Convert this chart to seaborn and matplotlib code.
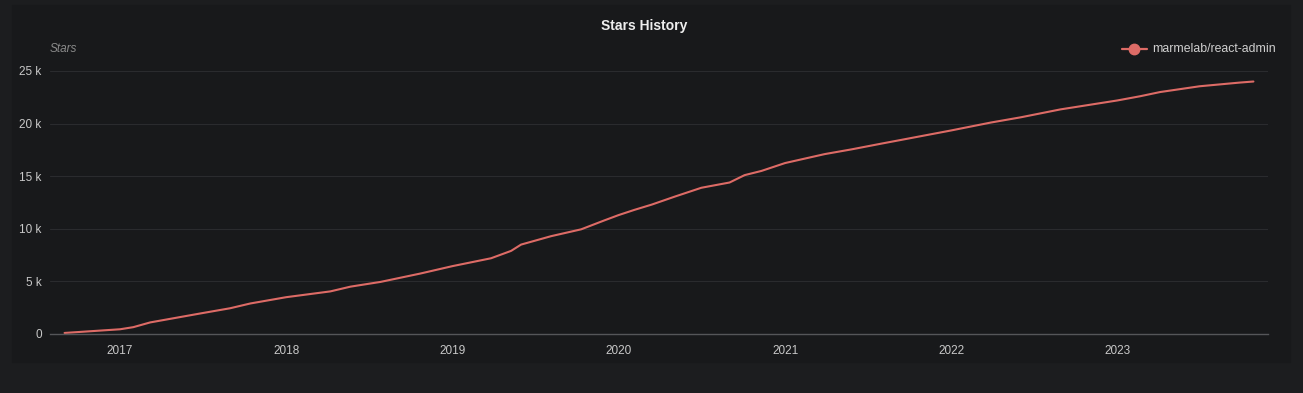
#%% Stars history of marmelab/react-admin
import numpy as np
import pandas as pd
import matplotlib
matplotlib.use('Agg')
import matplotlib.pyplot as plt
import matplotlib.dates as mdates
import seaborn as sns
from matplotlib.ticker import FuncFormatter

repo = 'marmelab/react-admin'
dates = ['2016-09-01', '2017-01-01', '2017-01-30', '2017-03-08', '2017-06-26',
         '2017-08-31', '2017-10-14', '2018-01-01', '2018-04-08', '2018-05-22',
         '2018-07-27', '2018-10-23', '2019-01-01', '2019-03-27', '2019-05-10',
         '2019-06-01', '2019-08-06', '2019-10-11', '2019-12-01', '2020-01-01',
         '2020-02-05', '2020-03-14', '2020-05-03', '2020-07-01', '2020-09-01',
         '2020-10-04', '2020-11-10', '2021-01-01', '2021-03-29', '2021-05-27',
         '2021-08-01', '2021-09-13', '2022-01-01', '2022-03-29', '2022-06-03',
         '2022-08-29', '2023-01-01', '2023-02-20', '2023-04-05', '2023-07-01',
         '2023-09-27', '2023-10-27']
stars = [100, 450, 650, 1100, 1950,
         2450, 2900, 3500, 4050, 4500,
         4950, 5750, 6450, 7200, 7900,
         8500, 9300, 9950, 10800, 11300,
         11800, 12300, 13050, 13900, 14400,
         15100, 15500, 16250, 17100, 17550,
         18100, 18450, 19350, 20100, 20600,
         21350, 22200, 22600, 23000, 23550,
         23900, 24000]
yticks = [0, 5000, 10000, 15000, 20000, 25000]

df = pd.DataFrame({'date': pd.to_datetime(dates), 'stars': stars, 'repo': repo})

sns.set_style('dark')
plt.rcParams['font.family'] = ['Liberation Sans', 'DejaVu Sans']

bg = '#1c1d1f'
linecol = '#dd6b66'

fig = plt.figure(figsize=(13.03, 3.93), dpi=100, facecolor=bg)
# inner panel slightly darker
panel = plt.Rectangle((12/1303, 1-362/393), 1278/1303, 357/393,
                      transform=fig.transFigure, color='#18191b', zorder=-5)
fig.patches.append(panel)
ax = fig.add_axes([50/1303, 1-334/393, 1218/1303, 263/393])
ax.set_zorder(2)
ax.set_facecolor('none')
ax.patch.set_alpha(0)

sns.lineplot(data=df, x='date', y='stars', hue='repo', palette=[linecol],
             linewidth=1.5, ax=ax, legend=False)

ax.set_xlim(pd.Timestamp('2016-07-31'), pd.Timestamp('2023-11-28'))
ax.set_ylim(0, 25000)
ax.set_yticks(yticks)
ax.yaxis.set_major_formatter(FuncFormatter(lambda v, p: '0' if v == 0 else '%d k' % (v/1000)))
ax.xaxis.set_major_locator(mdates.YearLocator())
ax.xaxis.set_major_formatter(mdates.DateFormatter('%Y'))

ax.grid(axis='y', color='#2a2b2e', linewidth=0.8)
ax.grid(axis='x', visible=False)
for s in ['top', 'right', 'left']:
    ax.spines[s].set_visible(False)
ax.spines['bottom'].set_color('#555659')
ax.spines['bottom'].set_linewidth(1)
ax.tick_params(axis='x', colors='#555659', length=4, width=1, labelcolor='#c8c8c8', labelsize=8.5, pad=4)
ax.tick_params(axis='y', length=0, labelcolor='#c8c8c8', labelsize=8.5, pad=6)
ax.set_xlabel('')
ax.set_ylabel('')

fig.text(644/1303, 1-26/393, 'Stars History', ha='center', va='center',
         color='#eeeeee', fontsize=10, fontweight='bold')
fig.text(50/1303, 1-49/393, 'Stars', ha='left', va='center',
         color='#8a8a8a', fontsize=8.5, style='italic')

# legend
fig.lines.append(plt.Line2D([1122/1303, 1147/1303], [1-49/393, 1-49/393], transform=fig.transFigure,
                            color=linecol, linewidth=1.6, zorder=5))
fig.lines.append(plt.Line2D([1134/1303], [1-49/393], transform=fig.transFigure,
                            color=linecol, marker='o', markersize=7.5, linestyle='none', zorder=6))
fig.text(1152/1303, 1-49/393, repo, ha='left', va='center', color='#d0d0d0', fontsize=8.8)

fig.savefig('out.png', dpi=100, facecolor=bg)
